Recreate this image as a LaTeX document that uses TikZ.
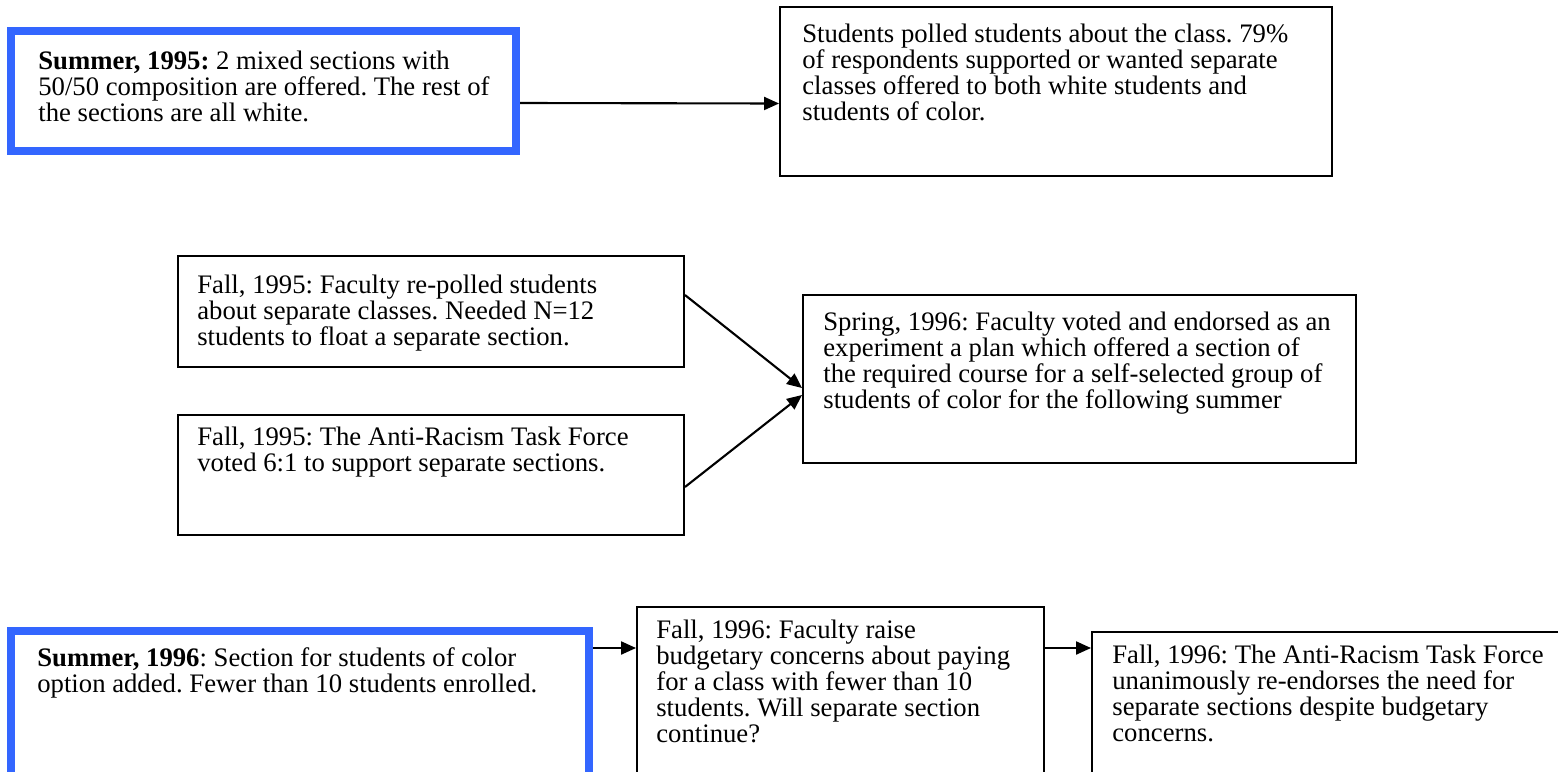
\documentclass[tikz,border=0pt]{standalone}
\usepackage{fontspec}
\setmainfont{Liberation Serif}
\usetikzlibrary{arrows.meta, fit}

\definecolor{keyblue}{RGB}{51,102,255}
\frenchspacing

\begin{document}
\begin{tikzpicture}[
    x=0.02cm,
    y=-0.02cm,
    box/.style={
        draw,
        line width=1.1pt,
        inner sep=0pt,
    },
    keybox/.style={
        box,
        draw=keyblue,
        line width=0.16cm,
    },
    note/.style={
        anchor=north west,
        align=left,
        inner sep=0pt,
        font=\fontsize{15.2pt}{14.8pt}\selectfont,
    },
    arrow/.style={
        -{Triangle[length=0.3cm, width=0.26cm]},
        line width=1.2pt,
    },
]

    \clip (0,0) rectangle (1558,771);

    % boxes
    \node[keybox, fit={(11,31) (516,151)}] (summer95) {};
    \node[box, fit={(780,7) (1332,176)}] (poll95) {};
    \node[box, fit={(178,256) (684,367)}] (repoll95) {};
    \node[box, fit={(178,415) (684,535)}] (taskforce95) {};
    \node[box, fit={(803,295) (1356,463)}] (spring96) {};
    \node[keybox, fit={(11,631) (589,800)}] (summer96) {};
    \node[box, fit={(637,607) (1044,800)}] (budget96) {};
    \node[box, fit={(1092,632) (1600,800)}] (endorse96) {};

    % texts
    \node[note] (summer95text) at (38,51) {\textbf{Summer, 1995:} 2 mixed sections with\\50/50 composition are offered. The rest of\\the sections are all white.};
    \node[note] (poll95text) at (802,24) {Students polled students about the class. 79\%\\of respondents supported or wanted separate\\classes offered to both white students and\\students of color.};
    \node[note] (repoll95text) at (197,275) {Fall, 1995: Faculty re-polled students\\about separate classes. Needed N=12\\students to float a separate section.};
    \node[note] (taskforce95text) at (197,427) {Fall, 1995: The Anti-Racism Task Force\\voted 6:1 to support separate sections.};
    \node[note] (spring96text) at (823,312) {Spring, 1996: Faculty voted and endorsed as an\\experiment a plan which offered a section of\\the required course for a self-selected group of\\students of color for the following summer};
    \node[note] (summer96text) at (37,647) {\textbf{Summer, 1996}: Section for students of color\\option added. Fewer than 10 students enrolled.};
    \node[note] (budget96text) at (656,620) {Fall, 1996: Faculty raise\\budgetary concerns about paying\\for a class with fewer than 10\\students. Will separate section\\continue?};
    \node[note] (endorse96text) at (1112,645) {Fall, 1996: The Anti-Racism Task Force\\unanimously re-endorses the need for\\separate sections despite budgetary\\concerns.};

    \coordinate (row3) at (0,648);

    % arrows
    \draw[arrow] ([yshift=-0.24cm]summer95.east) -- ([yshift=-0.24cm]poll95.west);
    \draw[arrow] ([yshift=0.33cm]repoll95.east) -- ([yshift=-0.18cm]spring96.west);
    \draw[arrow] ([yshift=-0.24cm]taskforce95.east) -- ([yshift=-0.32cm]spring96.west);
    \draw[arrow] (summer96.east |- row3) -- (budget96.west |- row3);
    \draw[arrow] (budget96.east |- row3) -- (endorse96.west |- row3);

\end{tikzpicture}
\end{document}
